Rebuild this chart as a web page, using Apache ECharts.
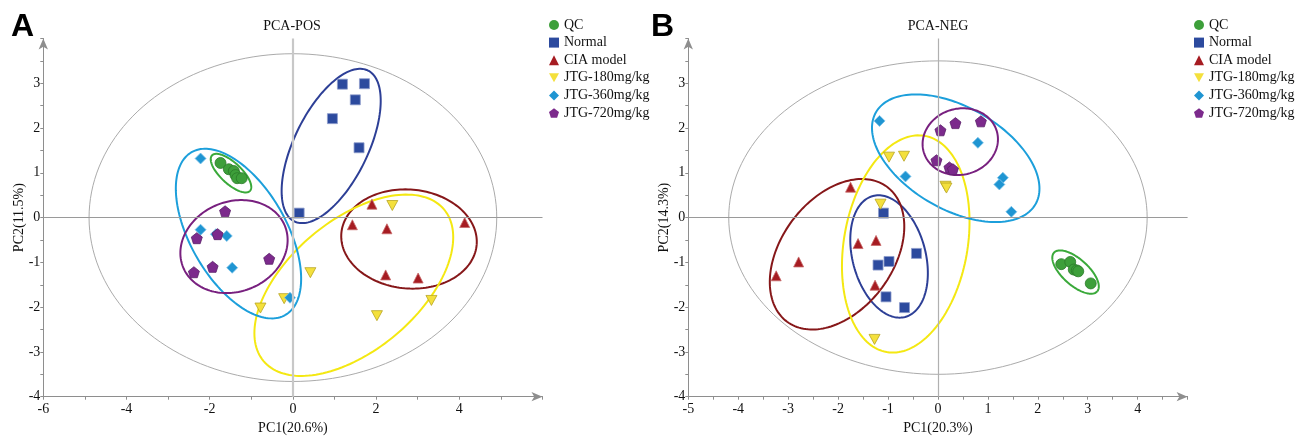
<!DOCTYPE html>
<html>
<head>
<meta charset="utf-8">
<script src="https://cdn.jsdelivr.net/npm/echarts@6/dist/echarts.min.js"></script>
<style>
  html, body { margin: 0; padding: 0; background: #fff; }
  #main { width: 1295px; height: 436px; }
</style>
</head>
<body>
<div id="main"></div>
<script>
const groups = ['QC', 'Normal', 'CIA model', 'JTG-180mg/kg', 'JTG-360mg/kg', 'JTG-720mg/kg'];

// PCA-POS scores [PC1, PC2]
const posQC = [[-1.74, 1.22], [-1.54, 1.08], [-1.42, 1.04], [-1.38, 0.95], [-1.34, 0.88], [-1.23, 0.88]];
const posNormal = [[1.19, 2.98], [1.72, 2.99], [1.50, 2.63], [0.95, 2.21], [1.59, 1.56], [0.15, 0.10]];
const posCIA = [[1.90, 0.30], [1.43, -0.16], [2.26, -0.25], [4.13, -0.11], [2.23, -1.28], [3.01, -1.35]];
const pos180 = [[2.39, 0.27], [0.42, -1.23], [3.33, -1.85], [2.02, -2.19], [-0.21, -1.81], [-0.78, -2.02]];
const pos360 = [[-2.22, 1.32], [-2.22, -0.27], [-1.85, -0.37], [-1.59, -0.41], [-1.46, -1.12], [-0.07, -1.79]];
const pos720 = [[-1.63, 0.14], [-1.81, -0.37], [-2.31, -0.46], [-0.57, -0.92], [-1.93, -1.10], [-2.38, -1.22]];
// group ellipses: [cx, cy, ux, uy, vx, vy] (centre + two conjugate semi-axes), order as groups
const posEllipses = [
  [-1.488, 0.993, 0.456, -0.396, 0.172, 0.171],
  [0.92, 1.60, 0.884, 1.685, -0.798, 0.362],
  [2.791, -0.478, 1.626, -0.132, 0.104, 1.101],
  [1.464, -1.511, 2.169, 1.693, -1.003, 1.111],
  [-1.308, -0.357, 1.128, -1.817, 0.998, 0.536],
  [-1.416, -0.647, 1.224, 0.46, -0.405, 0.931]
];
const posHotelling = [0, 0, 4.9, 0, 0, 3.66];

// PCA-NEG scores
const negQC = [[2.47, -1.04], [2.65, -0.99], [2.72, -1.16], [2.78, -1.18], [2.81, -1.20], [3.06, -1.47]];
const negNormal = [[-1.09, 0.10], [-0.43, -0.80], [-0.98, -0.98], [-1.20, -1.06], [-1.04, -1.77], [-0.67, -2.01]];
const negCIA = [[-1.75, 0.68], [-2.79, -0.99], [-3.24, -1.30], [-1.60, -0.58], [-1.24, -0.51], [-1.26, -1.51]];
const neg180 = [[-0.98, 1.35], [-0.68, 1.37], [0.15, 0.70], [0.17, 0.66], [-1.15, 0.30], [-1.27, -2.72]];
const neg360 = [[-1.17, 2.16], [-0.65, 0.92], [0.80, 1.67], [1.30, 0.89], [1.23, 0.74], [1.47, 0.13]];
const neg720 = [[0.05, 1.95], [0.35, 2.11], [0.86, 2.15], [-0.03, 1.28], [0.23, 1.12], [0.30, 1.08]];
const negEllipses = [
  [2.756, -1.217, 0.432, -0.433, 0.174, 0.216],
  [-0.979, -0.868, -0.324, 1.350, -0.706, -0.211],
  [-2.021, -0.819, 1.0, 1.507, -0.902, 0.744],
  [-0.645, -0.589, 0.382, 2.414, -1.219, 0.240],
  [0.356, 1.326, 1.597, -1.028, 0.512, 0.988],
  [0.447, 1.696, 0.735, 0.22, -0.171, 0.712]
];
const negHotelling = [0, 0, 4.19, 0, 0, 3.5];

// tick labels
const posXLabels = [-6, -4, -2, 0, 2, 4];
const negXLabels = [-5, -4, -3, -2, -1, 0, 1, 2, 3, 4];
const yLabels = [-4, -3, -2, -1, 0, 1, 2, 3];

const fills = ['#3d9f3a', '#2c4a9e', '#a61c22', '#f4e03c', '#1f95d2', '#7c2a8c'];
const edges = ['#2b7a2a', '#8d9ccc', '#c86a6a', '#b8a524', '#7cc3ea', '#5b1f69'];
const rings = ['#3aa93a', '#2d3f96', '#861719', '#f4e812', '#1c9fdb', '#78207f'];
const symbols = [
  'circle', 'rect', 'triangle',
  'path://M0,0L10,0L5,9Z',
  'diamond',
  'path://M5,0L10,3.8L8.1,9.5L1.9,9.5L0,3.8Z'
];
const sizes = [11, 10, 10, [11, 10], 11, 11];
const serif = 'Liberation Serif';
const axisGray = '#8e8e8e';

function ellipsePoints(e, api) {
  const pts = [];
  for (let k = 0; k <= 160; k++) {
    const t = 2 * Math.PI * k / 160;
    pts.push(api.coord([
      e[0] + e[2] * Math.cos(t) + e[4] * Math.sin(t),
      e[1] + e[3] * Math.cos(t) + e[5] * Math.sin(t)
    ]));
  }
  return pts;
}

function ellipseSeries(list, ax, colors, width) {
  return {
    type: 'custom', name: 'ellipse' + ax + width, xAxisIndex: ax, yAxisIndex: ax,
    silent: true, z: 1, clip: false,
    dimensions: ['cx', 'cy', 'ux', 'uy', 'vx', 'vy'],
    encode: { x: 0, y: 1 },
    data: list,
    renderItem: (params, api) => {
      const e = [0, 1, 2, 3, 4, 5].map(i => api.value(i));
      return {
        type: 'polyline',
        shape: { points: ellipsePoints(e, api), smooth: 0 },
        style: { fill: null, stroke: colors[params.dataIndex], lineWidth: width }
      };
    }
  };
}

function scatterSeries(sets, ax, vLine) {
  return sets.map((d, i) => {
    const s = {
      type: 'scatter', name: groups[i], xAxisIndex: ax, yAxisIndex: ax, z: 3,
      data: d, symbol: symbols[i], symbolSize: sizes[i],
      itemStyle: { color: fills[i], borderColor: edges[i], borderWidth: 0.8, opacity: 1 }
    };
    if (i === 0) {
      s.markLine = {
        silent: true, symbol: 'none', label: { show: false }, animation: false,
        data: [
          { xAxis: 0, lineStyle: vLine },
          { yAxis: 0, lineStyle: { color: '#9a9a9a', width: 1, type: 'solid' } }
        ]
      };
    }
    return s;
  });
}

function xAxisOf(ax, min, max, step, labels, name) {
  return {
    gridIndex: ax, type: 'value', min, max, interval: step,
    name, nameLocation: 'middle', nameGap: 24,
    nameTextStyle: { fontFamily: serif, fontSize: 14, color: '#111' },
    axisLine: { show: true, onZero: false, symbol: ['none', 'arrow'], symbolSize: [7, 11], lineStyle: { color: axisGray, width: 1 } },
    axisTick: { show: true, length: 3, lineStyle: { color: axisGray } },
    axisLabel: { formatter: v => labels.includes(v) ? String(v) : '', fontFamily: serif, fontSize: 14, color: '#111', margin: 6 },
    splitLine: { show: false }
  };
}

function yAxisOf(ax, name) {
  return {
    gridIndex: ax, type: 'value', min: -4, max: 4, interval: 0.5,
    name, nameLocation: 'middle', nameGap: 17, nameMoveOverlap: false,
    nameTextStyle: { fontFamily: serif, fontSize: 14, color: '#111' },
    axisLine: { show: true, onZero: false, symbol: ['none', 'arrow'], symbolSize: [7, 11], lineStyle: { color: axisGray, width: 1 } },
    axisTick: { show: true, length: 3, lineStyle: { color: axisGray } },
    axisLabel: { formatter: v => yLabels.includes(v) ? String(v) : '', fontFamily: serif, fontSize: 14, color: '#111', margin: 3 },
    splitLine: { show: false }
  };
}

function legendOf(left) {
  return {
    orient: 'vertical', left, top: 13, itemWidth: 10, itemHeight: 10, itemGap: 3.6,
    selectedMode: false,
    itemStyle: { borderWidth: 0 },
    data: groups.map((g, i) => ({ name: g, icon: symbols[i] })),
    textStyle: { fontFamily: serif, fontSize: 14, color: '#111', lineHeight: 14 }
  };
}

const chart = echarts.init(document.getElementById('main'), null, { renderer: 'canvas' });
chart.setOption({
  animation: false,
  backgroundColor: '#fff',
  grid: [
    { left: 43.3, top: 38.5, width: 499.2, height: 358.2, outerBoundsMode: 'none', containLabel: false },
    { left: 688.3, top: 38.5, width: 499.3, height: 358.2, outerBoundsMode: 'none', containLabel: false }
  ],
  xAxis: [
    xAxisOf(0, -6, 6, 1, posXLabels, 'PC1(20.6%)'),
    xAxisOf(1, -5, 5, 0.5, negXLabels, 'PC1(20.3%)')
  ],
  yAxis: [yAxisOf(0, 'PC2(11.5%)'), yAxisOf(1, 'PC2(14.3%)')],
  legend: [legendOf(544), legendOf(1189)],
  graphic: [
    { type: 'text', x: 11, y: 11, style: { text: 'A', font: 'bold 32px "Liberation Sans"', fill: '#000' } },
    { type: 'text', x: 651, y: 11, style: { text: 'B', font: 'bold 32px "Liberation Sans"', fill: '#000' } },
    { type: 'text', x: 292, y: 19, style: { text: 'PCA-POS', textAlign: 'center', font: '14px "Liberation Serif"', fill: '#111' } },
    { type: 'text', x: 938, y: 19, style: { text: 'PCA-NEG', textAlign: 'center', font: '14px "Liberation Serif"', fill: '#111' } }
  ],
  series: [
    ellipseSeries([posHotelling], 0, ['#ababab'], 1),
    ellipseSeries(posEllipses, 0, rings, 2),
    ...scatterSeries([posQC, posNormal, posCIA, pos180, pos360, pos720], 0, { color: '#c8c8c8', width: 2.2, type: 'solid' }),
    ellipseSeries([negHotelling], 1, ['#ababab'], 1),
    ellipseSeries(negEllipses, 1, rings, 2),
    ...scatterSeries([negQC, negNormal, negCIA, neg180, neg360, neg720], 1, { color: '#b0b0b0', width: 1.2, type: 'solid' })
  ]
});
</script>
</body>
</html>
